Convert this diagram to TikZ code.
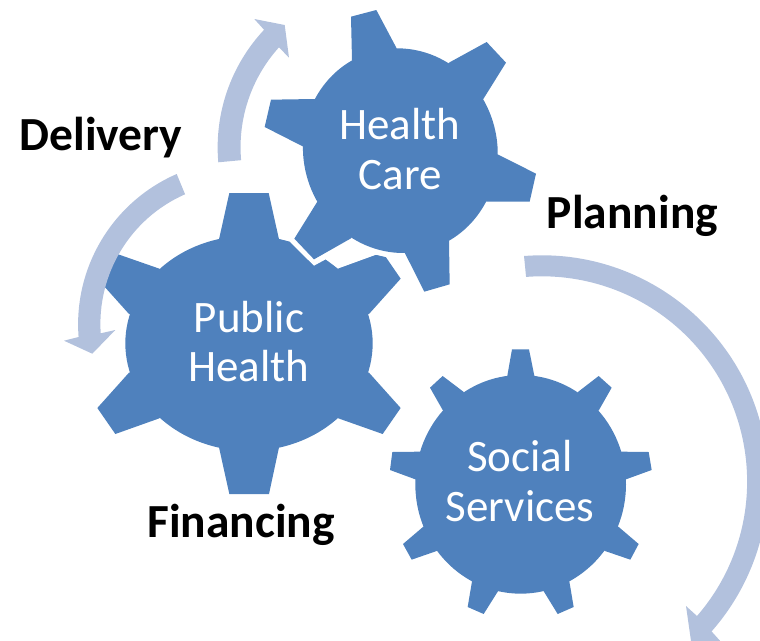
\documentclass[tikz,border=0pt]{standalone}
\usepackage{fontspec}
\setmainfont{Carlito}
\definecolor{gearblue}{HTML}{4F81BD}
\definecolor{arrowblue}{HTML}{B2C1DD}
\tikzset{
  gearfill/.style={fill=gearblue,draw=none},
  arrowfill/.style={fill=arrowblue,draw=none},
  geartext/.style={text=white,align=center,inner sep=0pt,font=\fontsize{45}{49.5}\selectfont},
  labeltext/.style={text=black,inner sep=0pt,anchor=base,font=\bfseries\fontsize{47.5}{49}\selectfont},
  zoomed/.style={x=0.33333pt,y=-0.33333pt}
}
\begin{document}
\begin{tikzpicture}[x=1pt,y=-1pt]
\useasboundingbox (0,0) rectangle (760,640);
\clip (0,0) rectangle (760,640);
% Public Health gear
\begin{scope}[shift={(60,170)},zoomed]
  \coordinate (pc) at (567,520);
  \fill[gearfill] (pc) ellipse [x radius=371,y radius=322.5];
  \fill[gearfill] (477,208) -- (508,69) -- (626,69) -- (657,208) -- (pc) -- cycle;
  \fill[gearfill] (835,296) -- (948,255) -- (978,262) -- (1022,326) -- (927,432) -- (pc) -- cycle;
  \fill[gearfill] (927,608) -- (1022,714) -- (968,792) -- (835,745) -- (pc) -- cycle;
  \fill[gearfill] (657,832) -- (627,972) -- (508,972) -- (477,832) -- (pc) -- cycle;
  \fill[gearfill] (298,745) -- (166,792) -- (112,714) -- (207,608) -- (pc) -- cycle;
  \fill[gearfill] (207,432) -- (112,326) -- (166,250) -- (298,296) -- (pc) -- cycle;
  \fill[white] (690,216) -- (762,287) -- (797,268) -- (835,296) -- (880,200) -- (700,150) -- cycle;
  \fill[gearfill] (657,208) -- (690,216) -- (700,300) -- cycle;
  \fill[gearfill] (835,296) -- (948,255) -- (978,262) -- (900,400) -- cycle;
\end{scope}
% Health Care gear
\begin{scope}[shift={(210,0)},zoomed]
  \coordinate (hcc) at (571,452);
  \fill[gearfill,rotate around={15:(hcc)}] (hcc) ellipse [x radius=291,y radius=308];
  \fill[gearfill] (426,180) -- (423,50) -- (499,30) -- (560,145) -- (hcc) -- cycle;
  \fill[gearfill] (717,188) -- (830,126) -- (888,188) -- (820,297) -- (hcc) -- cycle;
  \fill[gearfill] (863,463) -- (978,521) -- (959,605) -- (830,605) -- (hcc) -- cycle;
  \fill[gearfill] (717,722) -- (719,853) -- (643,875) -- (585,760) -- (hcc) -- cycle;
  \fill[gearfill] (423,715) -- (312,778) -- (253,716) -- (322,605) -- (hcc) -- cycle;
  \fill[gearfill] (280,440) -- (164,381) -- (183,299) -- (315,297) -- (hcc) -- cycle;
\end{scope}
% Social Services gear
\begin{scope}[shift={(380,340)},zoomed]
  \coordinate (ssc) at (422,433);
  \fill[gearfill] (ssc) ellipse [x radius=316,y radius=328];
  \fill[gearfill] (382,107) -- (396,28) -- (447,28) -- (463,107) -- (ssc) -- cycle;
  \fill[gearfill] (595,155) -- (656,108) -- (695,143) -- (657,210) -- (ssc) -- cycle;
  \fill[gearfill] (723,335) -- (806,336) -- (815,390) -- (738,418) -- (ssc) -- cycle;
  \fill[gearfill] (715,560) -- (776,612) -- (751,659) -- (675,633) -- (ssc) -- cycle;
  \fill[gearfill] (568,724) -- (581,801) -- (533,822) -- (490,752) -- (ssc) -- cycle;
  \fill[gearfill] (355,752) -- (311,822) -- (263,801) -- (276,724) -- (ssc) -- cycle;
  \fill[gearfill] (170,633) -- (95,659) -- (69,612) -- (130,560) -- (ssc) -- cycle;
  \fill[gearfill] (106,418) -- (30,390) -- (37,336) -- (122,335) -- (ssc) -- cycle;
  \fill[gearfill] (188,210) -- (150,143) -- (188,108) -- (250,155) -- (ssc) -- cycle;
\end{scope}
% Curved arrows
\fill[arrowblue] (524,256) arc[start angle=-94.5,end angle=41.4,radius=226.4]
  -- (722,643) -- (691,641) -- (686,606) -- (697,616)
  arc[start angle=40.9,end angle=-94.4,radius=205.3] -- cycle;
\fill[arrowblue] (218.3,162.3) arc[start angle=175,end angle=223.1,radius=172]
  -- (254.3,19) -- (284.7,25) -- (289,57.7) -- (279,47.3)
  arc[start angle=222.1,end angle=175,radius=149] -- cycle;
\fill[arrowblue] (176.7,174) arc[start angle=246.5,end angle=175.6,radius=164]
  -- (64,340.7) -- (92.3,353.7) -- (115.3,330) -- (100.7,333.3)
  arc[start angle=176.2,end angle=246.3,radius=141.6] -- cycle;
% Texts
\node[geartext] (hc) at (400,149) {Health\\Care};
\node[geartext] (ph) at (249,341.5) {Public\\Health};
\node[geartext] (ss) at (520,481) {Social\\Services};
\node[labeltext] (delivery) at (101,150) {Delivery};
\node[labeltext] (planning) at (632.5,228) {Planning};
\node[labeltext] (financing) at (241,537) {Financing};
\end{tikzpicture}
\end{document}
